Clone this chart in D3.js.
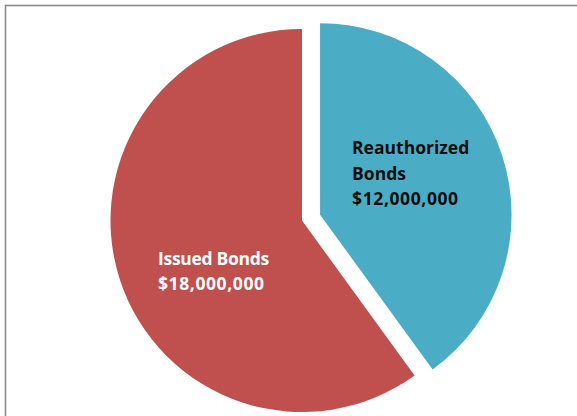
<!DOCTYPE html>
<html>
<head>
<meta charset="utf-8">
<script src="https://cdn.jsdelivr.net/npm/d3@7"></script>
<style>
  html, body { margin: 0; padding: 0; background: #ffffff; }
  svg { display: block; }
</style>
</head>
<body>
<svg id="chart" width="577" height="416"></svg>
<script>
// ---- data ----
const categories = ["Reauthorized Bonds", "Issued Bonds"];
const values = [12000000, 18000000];
const labelLines = [["Reauthorized", "Bonds", "$12,000,000"], ["Issued Bonds", "$18,000,000"]];

// ---- layout / style ----
const W = 577, H = 416;
const center = [302, 220.5];
const radius = 191.5;
const explode = [19, 0];                 // px pushed out along bisector
const colors = ["#4BACC6", "#C0504D"];
const textColors = ["#0d0d0d", "#ffffff"];
const labelOffset = [[32, -60.5], [-144, 44.5]]; // relative to slice origin: left x, first baseline
const lineHeight = [25.5, 25];

const svg = d3.select("#chart");

// chart border
svg.append("rect")
  .attr("x", 5.5).attr("y", 5.5)
  .attr("width", W + 20).attr("height", H + 20)
  .attr("fill", "#ffffff")
  .attr("stroke", "#8a8a8a")
  .attr("stroke-width", 1.6);

const pie = d3.pie().sort(null).value(d => d)
  .startAngle(0).endAngle(2 * Math.PI);
const arcs = pie(values);
const arc = d3.arc().innerRadius(0).outerRadius(radius);

const g = svg.append("g").attr("transform", `translate(${center[0]},${center[1]})`);

const slices = g.selectAll("g.slice").data(arcs).join("g")
  .attr("class", "slice")
  .attr("transform", (d, i) => {
    const a = (d.startAngle + d.endAngle) / 2;
    const dx = Math.sin(a) * explode[i];
    const dy = -Math.cos(a) * explode[i];
    return `translate(${dx},${dy})`;
  });

slices.append("path")
  .attr("d", arc)
  .attr("fill", (d, i) => colors[i]);

slices.each(function(d, i) {
  const t = d3.select(this).append("text")
    .attr("font-family", "'Open Sans', 'Noto Sans', sans-serif")
    .attr("font-weight", "bold")
    .attr("font-size", 17.5)
    .attr("fill", textColors[i])
    .attr("text-anchor", "start");
  labelLines[i].forEach((line, k) => {
    t.append("tspan")
      .attr("x", labelOffset[i][0])
      .attr("y", labelOffset[i][1] + k * lineHeight[i])
      .attr("letter-spacing", line.startsWith("$") ? 0.6 : (i === 1 ? -0.3 : 0))
      .text(line);
  });
});
</script>
</body>
</html>
